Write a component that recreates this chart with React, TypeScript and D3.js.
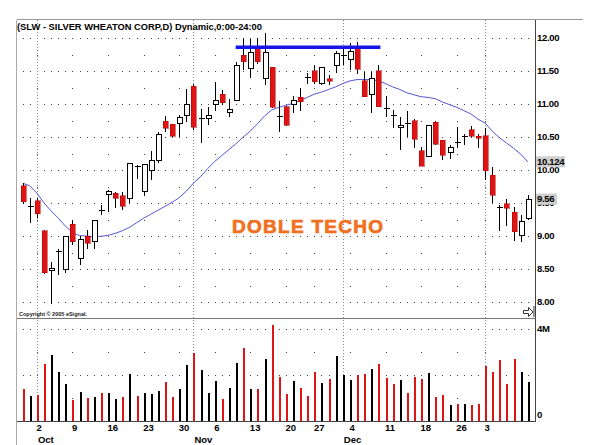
import React from "react";
import * as d3 from "d3";

// trading days shown on the chart
const dates = [
  "2006-09-28", "2006-09-29",
  "2006-10-02", "2006-10-03", "2006-10-04", "2006-10-05", "2006-10-06",
  "2006-10-09", "2006-10-10", "2006-10-11", "2006-10-12", "2006-10-13",
  "2006-10-16", "2006-10-17", "2006-10-18", "2006-10-19", "2006-10-20",
  "2006-10-23", "2006-10-24", "2006-10-25", "2006-10-26", "2006-10-27",
  "2006-10-30", "2006-10-31", "2006-11-01", "2006-11-02", "2006-11-03",
  "2006-11-06", "2006-11-07", "2006-11-08", "2006-11-09", "2006-11-10",
  "2006-11-13", "2006-11-14", "2006-11-15", "2006-11-16", "2006-11-17",
  "2006-11-20", "2006-11-21", "2006-11-22", "2006-11-24",
  "2006-11-27", "2006-11-28", "2006-11-29", "2006-11-30", "2006-12-01",
  "2006-12-04", "2006-12-05", "2006-12-06", "2006-12-07", "2006-12-08",
  "2006-12-11", "2006-12-12", "2006-12-13", "2006-12-14", "2006-12-15",
  "2006-12-18", "2006-12-19", "2006-12-20", "2006-12-21", "2006-12-22",
  "2006-12-26", "2006-12-27", "2006-12-28", "2006-12-29",
  "2007-01-03", "2007-01-04", "2007-01-05",
  "2007-01-08", "2007-01-09", "2007-01-10", "2007-01-11",
];

const opens = [
  9.76, 9.44, 9.535, 9.08, 8.47, 8.75, 8.49, 9.18, 8.66, 9.0,
  8.91, 9.42, 9.63, 9.65, 9.61, 9.57, 10.07, 9.67, 9.99, 10.15,
  10.74, 10.69, 10.71, 10.82, 11.27, 10.76, 10.78, 10.985, 11.15, 10.87,
  11.05, 11.74, 11.54, 11.84, 11.39, 11.56, 10.84, 10.96, 10.985, 11.1,
  11.43, 11.505, 11.31, 11.38, 11.58, 11.72, 11.68, 11.86, 11.35, 11.14,
  11.505, 10.96, 10.86, 10.64, 10.73, 10.75, 10.29, 10.2, 10.72, 10.45,
  10.27, 10.44, 10.5, 10.61, 10.515, 10.52, 9.92, 9.46, 9.485, 9.36,
  9.01, 9.27,
];
const highs = [
  9.8, 9.57, 9.58, 9.09, 8.6, 8.81, 9.0, 9.25, 9.0, 9.09,
  9.23, 9.47, 9.7, 9.67, 9.67, 10.1, 10.08, 10.08, 10.29, 10.57,
  10.82, 10.69, 10.83, 11.22, 11.31, 10.92, 10.96, 11.34, 11.21, 11.07,
  11.64, 11.995, 11.98, 12.0, 12.07, 11.56, 11.05, 10.97, 11.12, 11.25,
  11.47, 11.59, 11.56, 11.44, 11.81, 11.84, 11.92, 11.94, 11.49, 11.49,
  11.59, 11.12, 10.91, 10.81, 10.9, 10.77, 10.345, 10.67, 10.74, 10.46,
  10.38, 10.65, 10.545, 10.66, 10.545, 10.63, 10.04, 9.47, 9.555, 9.445,
  9.32, 9.62,
];
const lows = [
  9.48, 9.19, 9.27, 8.42, 7.97, 8.41, 8.44, 8.86, 8.56, 8.81,
  8.81, 9.32, 9.37, 9.42, 9.4, 9.5, 9.87, 9.61, 9.85, 10.1,
  10.58, 10.5, 10.505, 10.73, 10.61, 10.405, 10.68, 10.9, 10.985, 10.8,
  11.05, 11.52, 11.4, 11.6, 11.29, 10.94, 10.57, 10.66, 10.87, 10.9,
  11.31, 11.31, 11.29, 11.29, 11.465, 11.59, 11.52, 11.45, 11.11, 10.87,
  10.96, 10.81, 10.63, 10.3, 10.505, 10.33, 10.06, 10.2, 10.38, 10.15,
  10.16, 10.33, 10.38, 10.5, 10.33, 9.85, 9.5, 9.07, 9.15, 8.93,
  8.91, 9.25,
];
const closes = [
  9.52, 9.46, 9.34, 8.44, 8.51, 8.77, 9.0, 8.91, 8.94, 8.89,
  9.23, 9.4, 9.67, 9.57, 9.45, 10.1, 10.06, 10.08, 10.15, 10.545,
  10.63, 10.515, 10.79, 11.0, 10.65, 10.79, 10.83, 11.05, 11.02, 10.92,
  11.59, 11.64, 11.78, 11.64, 11.78, 10.95, 10.82, 10.68, 11.05, 11.035,
  11.41, 11.34, 11.56, 11.345, 11.76, 11.74, 11.79, 11.53, 11.11, 11.39,
  10.96, 10.94, 10.84, 10.68, 10.71, 10.465, 10.06, 10.67, 10.39, 10.22,
  10.345, 10.42, 10.52, 10.515, 10.48, 9.99, 9.62, 9.44, 9.42, 9.065,
  9.22, 9.56,
];

// 20-day average as drawn by the platform
const maValues = [
  9.8, 9.76, 9.65, 9.5, 9.38, 9.27, 9.15, 9.05, 9.005, 9.0,
  8.99, 8.995, 9.01, 9.04, 9.08, 9.13, 9.2, 9.27, 9.33, 9.39,
  9.45, 9.51, 9.58, 9.68, 9.8, 9.9, 10.02, 10.13, 10.22, 10.31,
  10.4, 10.5, 10.59, 10.7, 10.82, 10.91, 10.95, 10.98, 11.01, 11.05,
  11.1, 11.15, 11.18, 11.22, 11.26, 11.31, 11.35, 11.37, 11.37, 11.37,
  11.35, 11.31, 11.26, 11.22, 11.17, 11.14, 11.11, 11.1, 11.08, 11.03,
  10.99, 10.95, 10.9, 10.85, 10.77, 10.71, 10.59, 10.49, 10.41, 10.33,
  10.24, 10.124,
];

// volume in millions
const volumes = [
  1.39, 1.1, 1.13, 2.48, 2.86, 2.14, 1.59, 0.91, 1.25, 1.0,
  1.04, 1.22, 1.22, 0.94, 1.04, 2.04, 1.07, 1.22, 1.16, 1.3,
  1.7, 1.03, 1.38, 2.43, 2.97, 2.22, 1.22, 1.74, 0.97, 1.43,
  2.54, 3.17, 1.41, 1.38, 2.68, 4.17, 1.93, 1.17, 1.74, 1.45,
  1.1, 2.12, 1.65, 1.84, 2.84, 2.0, 1.78, 2.0, 2.03, 2.27,
  2.48, 1.87, 1.59, 1.77, 1.22, 1.9, 1.83, 2.07, 1.06, 1.13,
  0.7, 0.72, 0.74, 0.7, 0.75, 2.39, 2.14, 2.65, 1.61, 2.71,
  2.12, 1.71,
];
// 1 = black (up) volume bar, 0 = red
const volumeUp = [
  0, 1, 0, 0, 1, 1, 1, 0, 1, 0,
  1, 0, 1, 1, 0, 1, 0, 1, 1, 1,
  0, 0, 1, 1, 0, 1, 1, 1, 0, 1,
  1, 0, 1, 0, 1, 0, 0, 0, 1, 0,
  0, 0, 1, 0, 1, 1, 1, 0, 0, 1,
  0, 0, 0, 1, 0, 0, 0, 1, 0, 0,
  1, 0, 1, 0, 0, 0, 0, 0, 0, 0,
  1, 1,
];

const priceTicks = [12, 11.5, 11, 10.5, 10, 9.5, 9, 8.5, 8];
const volumeTicks = [4, 0];
const dayTicks = [
  "2006-10-02", "2006-10-09", "2006-10-16", "2006-10-23", "2006-10-30",
  "2006-11-06", "2006-11-13", "2006-11-20", "2006-11-27", "2006-12-04",
  "2006-12-11", "2006-12-18", "2006-12-26", "2007-01-03",
];
const monthTicks = ["2006-10-02", "2006-11-01", "2006-12-01", "2007-01-03"];
const monthNames = ["Oct", "Nov", "Dec", ""];

const topLevel = 11.86; // resistance drawn across the two tops
const topFrom = "2006-11-09";
const topTo = "2006-12-08";

const title = "(SLW - SILVER WHEATON CORP,D) Dynamic,0:00-24:00";
const note = "DOBLE TECHO";

export default function App() {
  const width = 616;
  const height = 445;
  const left = 16.5;
  const plotRight = 535.5;
  const top = 19.5;
  const priceBottom = 318.5;
  const volBottom = 421.5;

  const x = d3.scaleLinear().domain([0, dates.length - 1]).range([22.7, 527.8]);
  const y = d3.scaleLinear().domain([8, 12]).range([302, 38]);
  const yv = d3.scaleLinear().domain([0, 4]).range([421, 329]);
  const idx = (s: string) => dates.indexOf(s);
  const parse = d3.timeParse("%Y-%m-%d");
  const dayFmt = d3.timeFormat("%-d");

  const red = "#e01414";
  const font = "'Liberation Sans', Arial, sans-serif";

  const maLine = d3
    .line<number>()
    .x((_, i) => x(i))
    .y((d) => y(d));

  const weekIdx = dayTicks.map(idx);
  const halfLevels = d3.range(8, 12.01, 0.5);
  const quarterLevels = d3.range(8.25, 12, 0.5);

  const dots: [number, number][] = [];
  halfLevels.forEach((l) => dates.forEach((_, i) => dots.push([x(i), y(l)])));
  [4, 2].forEach((l) => dates.forEach((_, i) => dots.push([x(i), yv(l)])));
  quarterLevels.forEach((l) => weekIdx.forEach((i) => dots.push([x(i), y(l)])));
  [3, 1].forEach((l) => weekIdx.forEach((i) => dots.push([x(i), yv(l)])));

  const lastMa = maValues[maValues.length - 1];
  const lastClose = closes[closes.length - 1];

  return (
    <svg
      width={width}
      height={height}
      style={{ position: "absolute", left: 0, top: 0, background: "#fff" }}
      fontFamily={font}
    >
      <rect width={width} height={height} fill="#fff" />

      {/* grid dots */}
      <g fill="#444" shapeRendering="crispEdges">
        {dots.map(([dx, dy], k) => (
          <rect key={k} x={Math.round(dx)} y={Math.round(dy)} width={1} height={1} />
        ))}
      </g>

      {/* month separators */}
      <g stroke="#888" strokeDasharray="1 2" shapeRendering="crispEdges">
        {monthTicks.map((m) => (
          <line
            key={m}
            x1={Math.round(x(idx(m))) + 0.5}
            x2={Math.round(x(idx(m))) + 0.5}
            y1={top}
            y2={volBottom}
          />
        ))}
      </g>

      {/* frame */}
      <g shapeRendering="crispEdges" fill="none">
        <line x1={left} x2={583} y1={top} y2={top} stroke="#999" />
        <line x1={left} x2={left} y1={top} y2={height} stroke="#aaa" />
        <line x1={left} x2={plotRight} y1={priceBottom} y2={priceBottom} stroke="#777" strokeWidth={1.5} />
        <line x1={left} x2={plotRight} y1={volBottom} y2={volBottom} stroke="#444" />
        <line x1={plotRight} x2={plotRight} y1={top} y2={volBottom} stroke="#444" />
      </g>

      <text x={17} y={29.5} fontSize={9.5} fontWeight="bold" textLength={245} lengthAdjust="spacingAndGlyphs">
        {title}
      </text>

      {/* moving average */}
      <path d={maLine(maValues) ?? ""} fill="none" stroke="#5555d5" strokeWidth={1} />

      {/* candles */}
      <g shapeRendering="crispEdges">
        {dates.map((d, i) => {
          const cx = Math.round(x(i)) + 0.5;
          const o = opens[i];
          const c = closes[i];
          const doji = Math.abs(c - o) < 0.03;
          const up = c > o;
          const yTop = y(Math.max(o, c));
          const yBot = y(Math.min(o, c));
          return (
            <g key={d}>
              <line x1={cx} x2={cx} y1={y(highs[i])} y2={y(lows[i])} stroke="#000" />
              {doji ? (
                <line x1={cx - 3} x2={cx + 3} y1={Math.round(y(c)) + 0.5} y2={Math.round(y(c)) + 0.5} stroke="#000" />
              ) : up ? (
                <rect x={cx - 2.5} y={yTop} width={5} height={Math.max(1, yBot - yTop)} fill="#fff" stroke="#000" />
              ) : (
                <rect x={cx - 2.5} y={yTop} width={5} height={Math.max(1, yBot - yTop)} fill={red} stroke="#a00" strokeWidth={0.5} />
              )}
            </g>
          );
        })}
      </g>

      {/* double top line */}
      <line
        x1={x(idx(topFrom)) - 0.5}
        x2={x(idx(topTo)) + 2}
        y1={y(topLevel)}
        y2={y(topLevel)}
        stroke="#1515e8"
        strokeWidth={3.5}
      />

      <text
        x={232}
        y={232.7}
        fontSize={19}
        fontWeight="bold"
        fill="#f07022"
        stroke="#f07022"
        strokeWidth={0.7}
        textLength={151}
        lengthAdjust="spacing"
      >
        {note}
      </text>

      <text x={19} y={316} fontSize={6} fontWeight="bold" fill="#222" textLength={68} lengthAdjust="spacingAndGlyphs">
        Copyright © 2005 eSignal.
      </text>

      {/* scroll icon */}
      <g fill="none" stroke="#333" strokeWidth={1}>
        <path d="M523.5,310.5 h5 v-3 l4.5,4.5 l-4.5,4.5 v-3 h-5 z" />
        <line x1={534} x2={534} y1={306} y2={317} />
      </g>

      {/* volume */}
      <g shapeRendering="crispEdges">
        {volumes.map((v, i) => (
          <rect
            key={i}
            x={Math.round(x(i))}
            y={yv(v)}
            width={1.5}
            height={yv(0) - yv(v)}
            fill={volumeUp[i] ? "#000" : red}
          />
        ))}
      </g>

      {/* right price axis; the last-value boxes cover part of the labels under them */}
      <g fontSize={9.5} fontWeight="bold" letterSpacing={-0.3}>
        {priceTicks.map((t) => (
          <text key={t} x={537} y={y(t)} dy="0.36em">
            {t.toFixed(2)}
          </text>
        ))}
        {volumeTicks.map((t) => (
          <text key={t} x={537} y={t === 0 ? 415 : yv(t)} dy="0.36em">
            {t === 0 ? "0" : `${t}M`}
          </text>
        ))}
        <rect x={536} y={y(lastMa) - 5.5} width={29} height={11} fill="#cfcfcf" />
        <text x={537} y={y(lastMa)} dy="0.36em">
          {lastMa.toFixed(3)}
        </text>
        <rect x={536} y={y(lastClose) - 5.5} width={21} height={11} fill="#cfcfcf" />
        <text x={537} y={y(lastClose)} dy="0.36em">
          {lastClose.toFixed(2)}
        </text>
      </g>

      {/* date axis */}
      <g fontSize={9.5} fontWeight="bold">
        {dayTicks.map((t) => (
          <text key={t} x={x(idx(t)) - 0.5} y={431}>
            {dayFmt(parse(t) as Date)}
          </text>
        ))}
        {monthTicks.map((m, k) => (
          <text key={m} x={x(idx(m)) + 1} y={443}>
            {monthNames[k]}
          </text>
        ))}
      </g>
    </svg>
  );
}
